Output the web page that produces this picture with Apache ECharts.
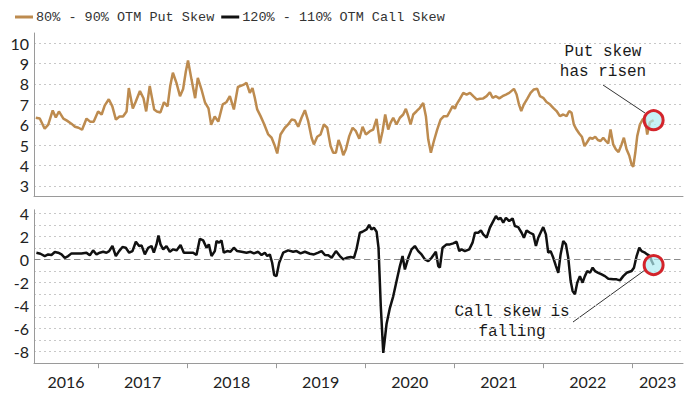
<!DOCTYPE html>
<html><head><meta charset="utf-8">
<script src="https://cdn.jsdelivr.net/npm/echarts@6/dist/echarts.min.js"></script>
<style>html,body{margin:0;padding:0;background:#fff}#c{width:700px;height:394px}</style>
</head><body><div id="c"></div>
<script>
const seriesNames = ['80% - 90% OTM Put Skew', '120% - 110% OTM Call Skew'];

const putX = [2016.30,2016.345,2016.40,2016.44,2016.49,2016.525,2016.56,2016.61,2016.65,2016.70,2016.74,2016.78,2016.82,2016.87,2016.91,2016.95,
2017.00,2017.04,2017.075,2017.12,2017.16,2017.20,2017.24,2017.28,2017.32,2017.345,2017.39,2017.42,2017.47,2017.51,2017.54,2017.58,2017.63,2017.66,2017.70,2017.74,2017.78,2017.81,2017.84,2017.88,2017.92,2017.955,2017.985,
2018.01,2018.05,2018.09,2018.12,2018.16,2018.20,2018.24,2018.27,2018.31,2018.35,2018.40,2018.44,2018.48,2018.525,2018.57,2018.63,2018.667,2018.704,2018.734,2018.76,2018.787,2018.825,2018.862,2018.911,2018.949,2018.986,
2019.012,2019.049,2019.098,2019.135,2019.173,2019.21,2019.248,2019.285,2019.323,2019.36,2019.398,2019.424,2019.461,2019.499,2019.536,2019.574,2019.611,2019.641,2019.671,2019.701,2019.727,2019.754,2019.784,2019.821,2019.859,2019.896,2019.934,2019.971,
2020.008,2020.053,2020.09,2020.128,2020.165,2020.195,2020.225,2020.259,2020.285,2020.315,2020.352,2020.39,2020.427,2020.457,2020.484,2020.51,2020.54,2020.577,2020.615,2020.652,2020.682,2020.708,2020.738,2020.772,2020.809,2020.847,2020.884,2020.922,2020.952,2020.982,
2021.008,2021.027,2021.064,2021.102,2021.139,2021.177,2021.214,2021.252,2021.289,2021.326,2021.364,2021.401,2021.431,2021.469,2021.506,2021.543,2021.581,2021.618,2021.671,2021.701,2021.727,2021.753,2021.783,2021.82,2021.858,2021.895,2021.933,2021.963,
2022.0,2022.037,2022.075,2022.112,2022.15,2022.187,2022.225,2022.262,2022.292,2022.318,2022.344,2022.374,2022.404,2022.434,2022.464,2022.494,2022.524,2022.554,2022.584,2022.614,2022.644,2022.674,2022.704,2022.73,2022.756,2022.786,2022.816,2022.846,2022.88,2022.906,2022.936,2022.966,2022.992,
2023.011,2023.034,2023.056,2023.086,2023.116,2023.142,2023.168,2023.198,2023.24];
const putY = [6.34,6.3,5.8,6.0,6.7,6.35,6.65,6.3,6.2,6.05,5.9,5.85,5.75,6.3,6.15,6.15,
6.65,6.5,6.95,7.25,6.9,6.25,6.4,6.4,6.65,7.8,6.8,7.1,7.65,7.3,6.65,7.9,6.75,6.65,6.6,7.1,6.9,7.9,8.55,8.05,7.4,7.75,8.6,
9.15,8.2,7.3,8.3,7.75,7.1,6.8,6.0,6.4,6.15,7.0,7.1,7.4,6.75,7.85,7.95,8.05,7.56,7.8,7.32,6.75,6.42,6.06,5.52,5.36,4.95,
4.59,5.52,5.85,6.01,6.25,6.22,5.9,6.34,6.71,6.17,5.36,5.03,5.41,5.52,6.01,5.85,4.95,4.62,4.62,5.25,4.95,4.5,4.8,5.44,5.85,5.68,5.31,5.9,
5.52,5.68,5.76,6.28,5.08,5.68,6.5,5.76,6.09,6.34,6.01,6.34,6.5,6.78,6.42,6.01,6.5,6.66,6.83,7.07,6.42,5.28,4.62,5.2,5.76,6.25,6.42,6.42,6.66,6.91,
6.78,7.0,7.27,7.56,7.48,7.56,7.4,7.24,7.27,7.29,7.4,7.59,7.32,7.4,7.29,7.4,7.48,7.56,7.76,7.48,7.0,6.67,7.0,7.27,7.56,7.73,7.76,7.4,
7.32,7.11,7.0,6.83,6.67,6.42,6.5,6.42,6.67,6.59,6.01,5.76,5.57,5.41,4.95,5.15,5.36,5.31,5.41,5.25,5.2,5.36,5.2,5.08,5.76,5.03,4.79,4.66,5.03,5.36,4.79,4.49,4.05,
3.93,4.62,5.44,6.01,6.25,6.34,5.52,6.12,6.22];

const callX = [2016.307,2016.352,2016.401,2016.439,2016.476,2016.514,2016.551,2016.589,2016.626,2016.664,2016.701,2016.757,2016.813,2016.869,2016.907,2016.944,2016.982,
2017.019,2017.057,2017.094,2017.124,2017.161,2017.199,2017.236,2017.274,2017.311,2017.349,2017.386,2017.424,2017.461,2017.488,2017.525,2017.563,2017.6,2017.626,2017.656,2017.678,2017.701,2017.731,2017.768,2017.806,2017.843,2017.881,2017.926,2017.963,
2018.012,2018.068,2018.105,2018.143,2018.18,2018.218,2018.244,2018.274,2018.311,2018.33,2018.36,2018.386,2018.412,2018.45,2018.487,2018.525,2018.562,2018.611,2018.667,2018.712,2018.75,2018.798,2018.836,2018.873,2018.9,2018.929,2018.955,2018.978,
2019.004,2019.034,2019.079,2019.135,2019.191,2019.229,2019.274,2019.323,2019.379,2019.424,2019.473,2019.51,2019.548,2019.586,2019.623,2019.672,2019.716,2019.754,2019.792,2019.837,2019.874,2019.903,2019.94,2019.97,
2020.016,2020.045,2020.07,2020.098,2020.128,2020.15,2020.175,2020.203,2020.24,2020.278,2020.315,2020.352,2020.39,2020.42,2020.446,2020.484,2020.521,2020.558,2020.596,2020.633,2020.671,2020.708,2020.746,2020.772,2020.794,2020.821,2020.839,2020.869,2020.914,2020.952,2020.989,
2021.027,2021.057,2021.083,2021.12,2021.169,2021.206,2021.233,2021.27,2021.3,2021.326,2021.364,2021.401,2021.439,2021.469,2021.495,2021.521,2021.551,2021.581,2021.618,2021.656,2021.682,2021.719,2021.757,2021.783,2021.813,2021.851,2021.888,2021.918,2021.944,2021.97,
2022.0,2022.03,2022.056,2022.083,2022.113,2022.143,2022.169,2022.195,2022.225,2022.255,2022.281,2022.308,2022.33,2022.356,2022.382,2022.412,2022.442,2022.468,2022.495,2022.525,2022.555,2022.581,2022.618,2022.656,2022.693,2022.731,2022.787,2022.824,2022.862,2022.899,2022.937,2022.993,
2023.019,2023.049,2023.079,2023.105,2023.143,2023.169,2023.199,2023.218,2023.24];
const callY = [0.58,0.49,0.29,0.43,0.38,0.64,0.58,0.43,0.14,0.29,0.52,0.52,0.52,0.58,0.35,0.78,0.43,
0.58,0.66,0.58,0.72,1.16,0.29,0.72,1.07,1.01,0.58,0.72,1.53,1.16,1.21,0.43,1.01,1.16,0.58,1.3,2.08,1.3,0.87,1.16,0.66,0.87,0.78,1.24,0.58,
0.58,0.58,0.38,1.79,1.65,1.01,1.3,0.29,0.72,1.59,1.45,1.65,0.58,0.72,0.66,1.01,0.72,0.66,0.58,0.66,0.52,0.66,0.38,0.58,0.29,0.43,-0.29,-1.36,
-1.45,-0.29,0.58,0.78,0.66,0.72,0.52,0.66,0.49,0.43,0.58,0.72,0.38,0.35,0.14,0.72,0.29,0.0,0.14,0.2,0.14,0.9,2.31,2.4,
2.6,3.0,2.6,2.75,2.4,1.0,-4.0,-8.1,-5.6,-4.2,-3.2,-1.9,-0.58,0.29,-0.87,0.14,0.87,1.16,0.72,0.43,0.0,-0.14,0.14,0.43,0.66,-0.58,-0.72,1.01,1.3,1.3,1.39,
1.53,0.72,0.87,0.72,0.87,1.45,2.31,2.31,2.51,2.17,1.88,2.75,3.32,3.76,3.47,3.61,3.18,3.61,3.32,3.55,2.89,2.8,2.31,1.88,2.51,2.31,2.17,1.16,1.88,2.31,
2.8,2.17,0.58,0.72,0.14,-0.58,-1.16,0.43,1.59,1.3,0.14,-1.88,-2.75,-3.03,-2.02,-1.45,-2.02,-1.45,-1.01,-1.16,-0.72,-1.01,-1.16,-1.3,-1.45,-1.68,-1.73,-1.73,-1.82,-1.45,-1.16,-1.01,
-0.72,0.29,1.01,0.72,0.58,0.43,0.29,-0.14,-0.49];

const years = [2016,2017,2018,2019,2020,2021,2022,2023];
const putTicks = [3,4,5,6,7,8,9,10];
const callGridTicks = [-8,-7,-6,-5,-4,-3,-2,-1,0,1,2,3,4];
const callLabelTicks = [-8,-6,-4,-2,0,2,4];
const xMin = 2016.28, xMax = 2023.57;

const yearLabelPos = years.map(y => (Math.max(y, xMin) + Math.min(y + 1, xMax)) / 2);
const putColor = '#BD8B4F', callColor = '#111111';
const axisGray = '#9a9a9a', gridGray = '#c8c8c8';
const labelFont = {fontFamily: 'Lato', fontSize: 16, color: '#222'};
const monoFont = 'Liberation Mono';

const chart = echarts.init(document.getElementById('c'), null, {renderer: 'svg'});
const lastPut = putX.length - 1, lastCall = callX.length - 1;
const ring = {symbol: 'circle', symbolSize: 19, itemStyle: {color: 'rgba(175,235,242,0.7)', borderColor: '#d3242b', borderWidth: 3}, label: {show: false}};

chart.setOption({
  animation: false,
  legend: {
    left: 10, top: 5, icon: 'rect', itemWidth: 18, itemHeight: 3, itemGap: 7,
    textStyle: {fontFamily: monoFont, fontSize: 13.5, color: '#333', padding: [0, 0, 0, -2]},
    data: seriesNames
  },
  grid: [
    {left: 34, right: 17, top: 33, height: 163},
    {left: 34, right: 17, top: 209.8, height: 153.4}
  ],
  xAxis: [
    {gridIndex: 0, type: 'value', min: xMin, max: xMax,
     axisLine: {show: true, onZero: false, lineStyle: {color: axisGray}},
     axisTick: {show: false}, axisLabel: {show: false}, splitLine: {show: false}},
    {gridIndex: 1, type: 'value', min: xMin, max: xMax,
     axisLine: {show: true, onZero: false, lineStyle: {color: axisGray}},
     axisTick: {show: true, customValues: years.slice(1), length: 5, lineStyle: {color: axisGray}},
     axisLabel: Object.assign({customValues: yearLabelPos, formatter: v => String(Math.floor(v)), margin: 10}, labelFont),
     splitLine: {show: false}}
  ],
  yAxis: [
    {gridIndex: 0, type: 'value', min: 2.5, max: 10.5,
     axisLine: {show: true, onZero: false, lineStyle: {color: axisGray}},
     axisTick: {show: false, customValues: putTicks},
     axisLabel: Object.assign({customValues: putTicks, margin: 5}, labelFont),
     splitLine: {show: true, lineStyle: {type: [2, 3], color: gridGray}}},
    {gridIndex: 1, type: 'value', min: -9, max: 4.3,
     axisLine: {show: true, onZero: false, lineStyle: {color: axisGray}},
     axisTick: {show: false, customValues: callGridTicks},
     axisLabel: Object.assign({customValues: callLabelTicks, margin: 5}, labelFont),
     splitLine: {show: true, lineStyle: {type: [2, 3], color: gridGray}}}
  ],
  series: [
    {name: seriesNames[0], type: 'line', xAxisIndex: 0, yAxisIndex: 0, showSymbol: false,
     data: putX.map((x, i) => [x, putY[i]]),
     itemStyle: {color: putColor}, lineStyle: {color: putColor, width: 2.5},
     markPoint: Object.assign({data: [{coord: [putX[lastPut], putY[lastPut]]}]}, ring)},
    {name: seriesNames[1], type: 'line', xAxisIndex: 1, yAxisIndex: 1, showSymbol: false,
     data: callX.map((x, i) => [x, callY[i]]),
     itemStyle: {color: callColor}, lineStyle: {color: callColor, width: 2.5},
     markLine: {silent: true, symbol: 'none', label: {show: false},
       lineStyle: {type: [6, 4], color: '#8a8a8a', width: 1}, data: [{yAxis: 0}]},
     markPoint: Object.assign({data: [{coord: [callX[lastCall], callY[lastCall]]}]}, ring)}
  ],
  graphic: [
    {type: 'text', left: 'auto', style: {text: 'Put skew\nhas risen', x: 603, y: 42, align: 'center', verticalAlign: 'top',
      fontFamily: monoFont, fontSize: 16, lineHeight: 20, fill: '#1a1a1a'}},
    {type: 'line', shape: {x1: 603, y1: 85, x2: 645, y2: 113}, style: {stroke: '#333', lineWidth: 1}},
    {type: 'text', style: {text: 'Call skew is\nfalling', x: 512, y: 302, align: 'center', verticalAlign: 'top',
      fontFamily: monoFont, fontSize: 16, lineHeight: 20, fill: '#1a1a1a'}},
    {type: 'line', shape: {x1: 573, y1: 322, x2: 645, y2: 270}, style: {stroke: '#333', lineWidth: 1}}
  ]
});
</script></body></html>
